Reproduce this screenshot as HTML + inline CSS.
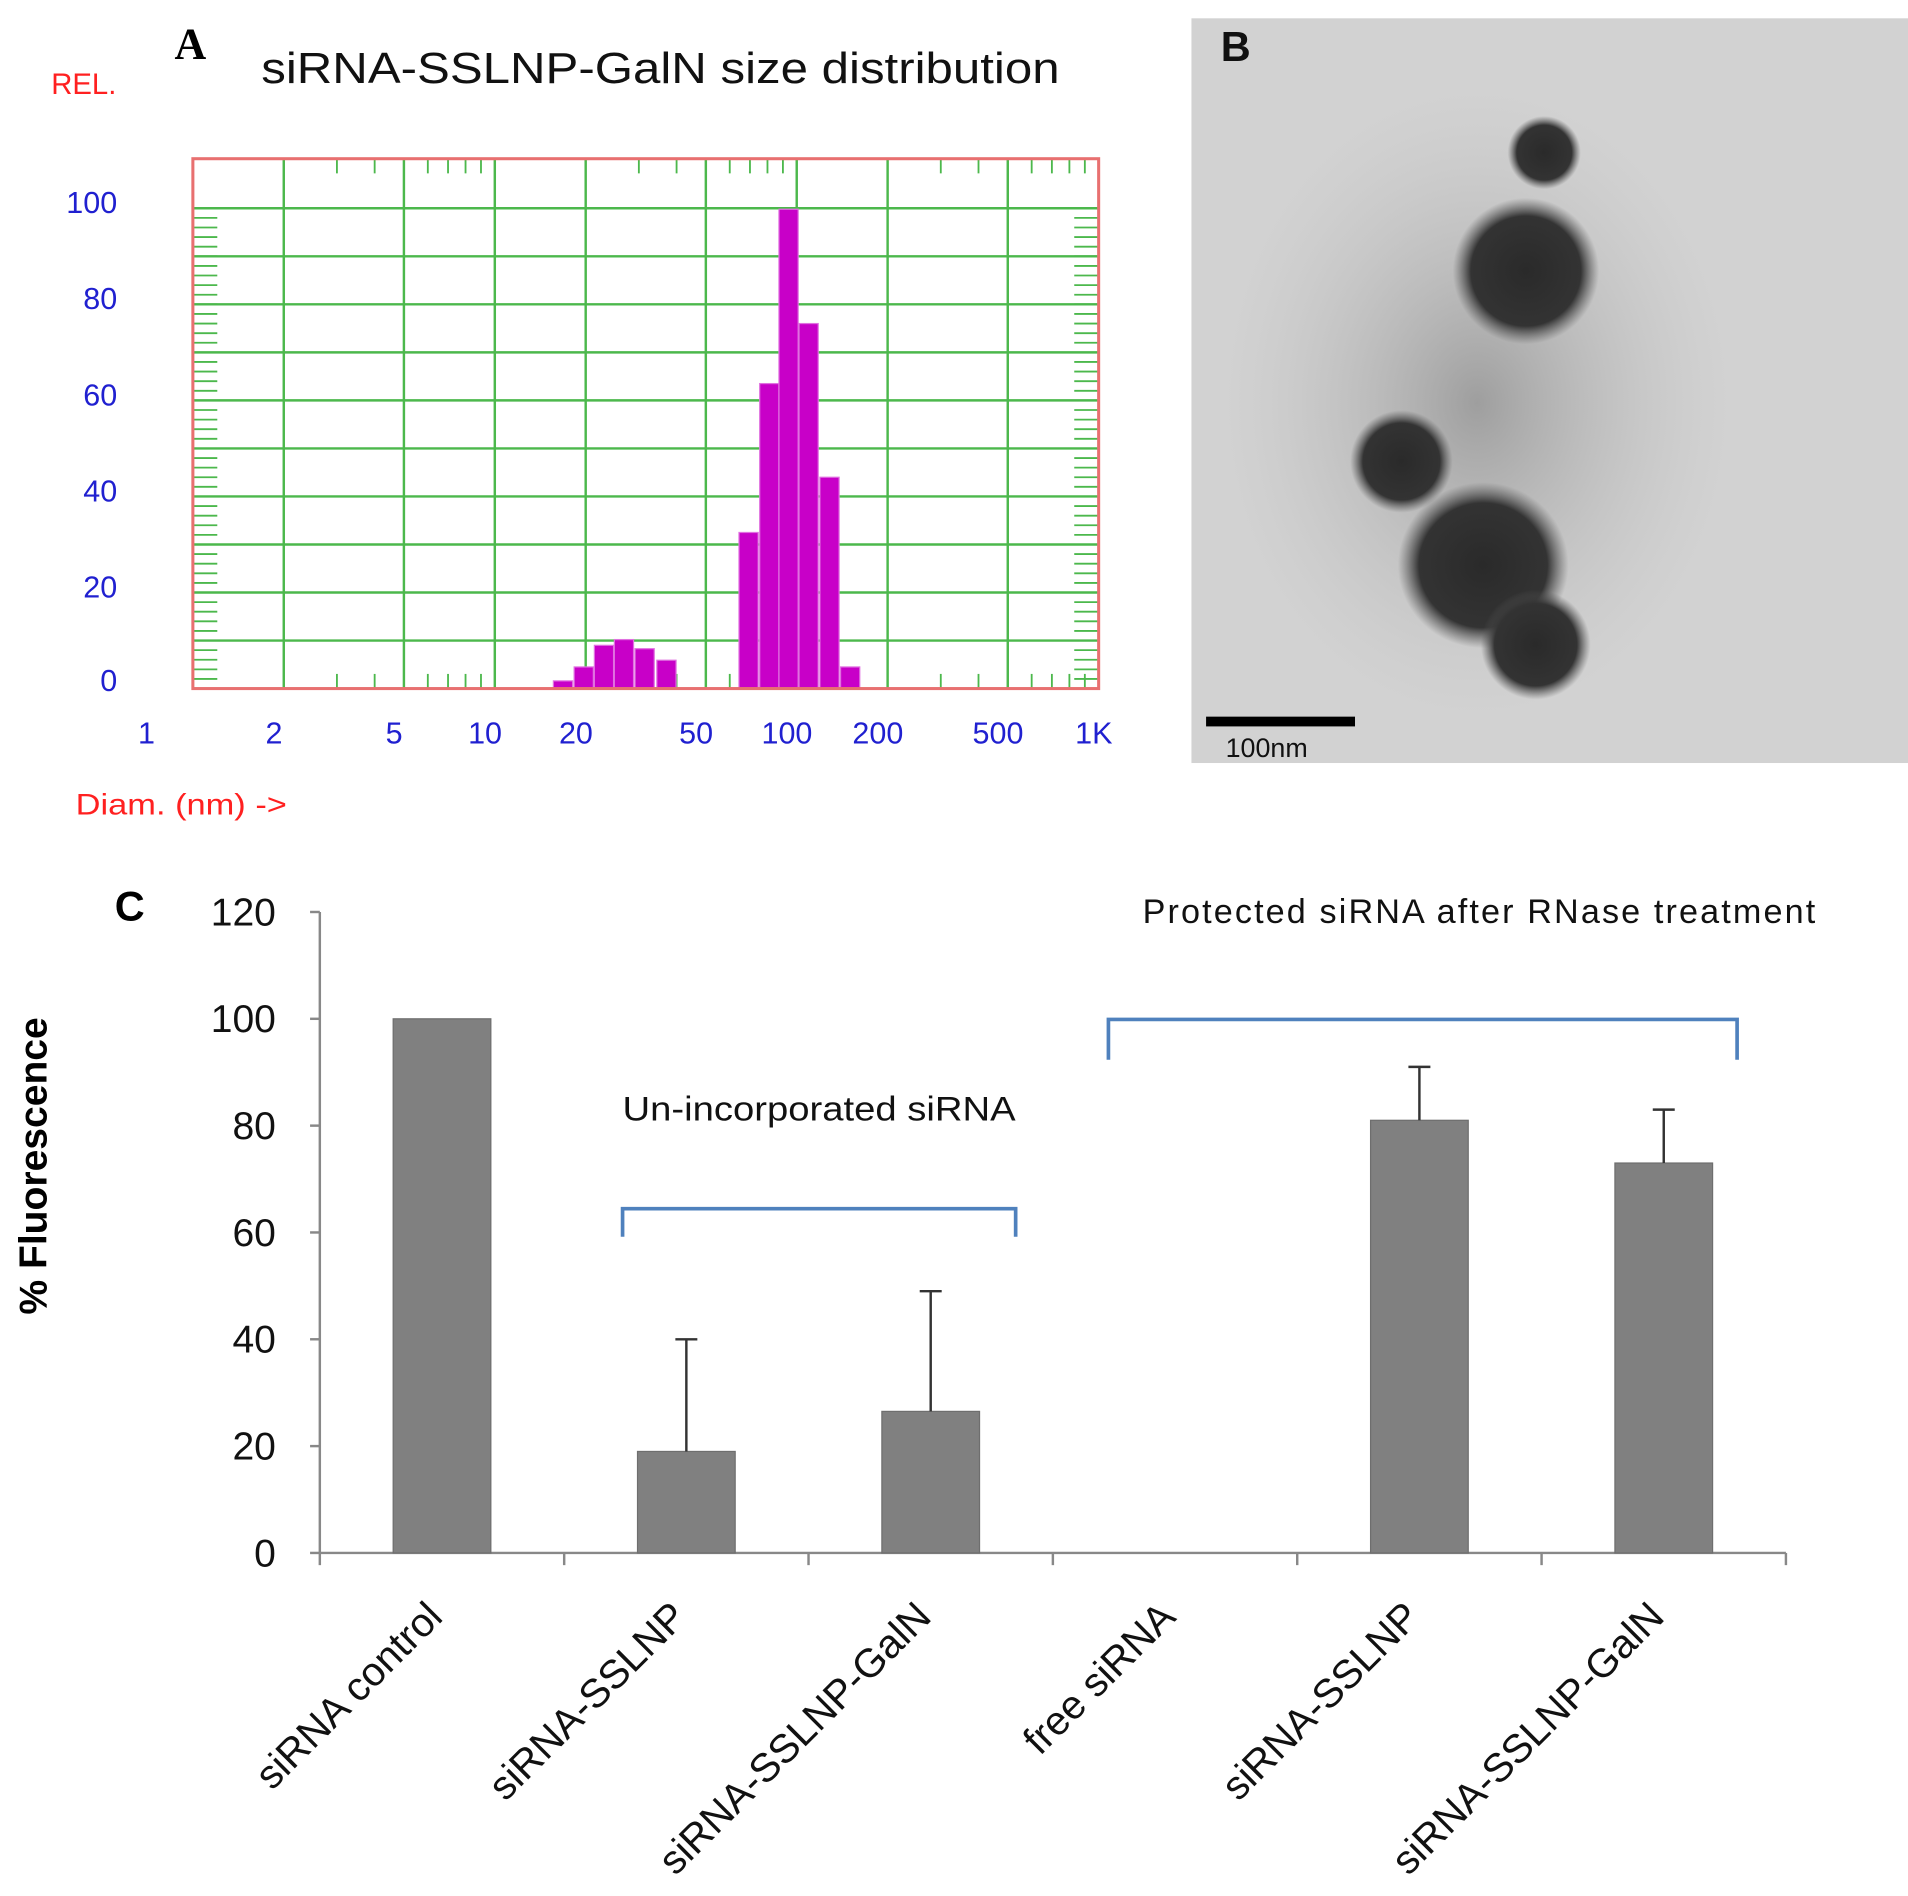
<!DOCTYPE html>
<html><head><meta charset="utf-8"><style>html,body{margin:0;padding:0;background:#fff}svg{display:block}</style></head>
<body>
<svg id="fig" width="1908" height="1896" viewBox="0 0 1563 1553" preserveAspectRatio="none" xmlns="http://www.w3.org/2000/svg" font-family="Liberation Sans, sans-serif">
<defs>
<radialGradient id="blob" cx="50%" cy="50%" r="50%"><stop offset="0" stop-color="#2a2a2a"/><stop offset="0.75" stop-color="#333"/><stop offset="1" stop-color="#555" stop-opacity="0"/></radialGradient>
<radialGradient id="halo" cx="50%" cy="50%" r="50%"><stop offset="0" stop-color="#888" stop-opacity="0.7"/><stop offset="1" stop-color="#bbb" stop-opacity="0"/></radialGradient>
</defs>
<g id="panelA"></g>
<g id="panelB">
  <rect x="976" y="15" width="587" height="610" fill="#d2d2d2"/>
  <ellipse cx="1210" cy="330" rx="210" ry="260" fill="url(#halo)"/>
  <circle cx="1265" cy="125" r="30" fill="url(#blob)"/>
  <circle cx="1250" cy="222" r="60" fill="url(#blob)"/>
  <circle cx="1148" cy="378" r="42" fill="url(#blob)"/>
  <ellipse cx="1215" cy="463" rx="70" ry="68" fill="url(#blob)"/>
  <circle cx="1258" cy="528" r="45" fill="url(#blob)"/>
  <rect x="988" y="587" width="122" height="8" fill="#000"/>
  <text x="1004" y="620" font-size="22" fill="#111">100nm</text>
  <text x="1000" y="50" font-size="34" font-weight="bold" fill="#111">B</text>
</g>
<g id="panelC"></g>
</svg>
<script>
const NS='http://www.w3.org/2000/svg';
function mk(parent,tag,attrs,text){const e=document.createElementNS(NS,tag);for(const k in attrs)e.setAttribute(k,attrs[k]);if(text!==undefined)e.textContent=text;parent.appendChild(e);return e;}

// ---------- Panel A data ----------
const diameters=[16.9,19.8,23.1,26.9,31.5,37.2,69.6,81.5,94.4,110,129,151];
const relValues=[1.6,4.5,9,10.2,8.3,5.9,32.5,63.5,99.8,76,44,4.5];
const xTickVals=[1,2,5,10,20,50,100,200,500,1000];
const xTickLabels=['1','2','5','10','20','50','100','200','500','1K'];
const yTickVals=[0,20,40,60,80,100];

// ---------- Panel C data ----------
const categories=['siRNA control','siRNA-SSLNP','siRNA-SSLNP-GalN','free siRNA','siRNA-SSLNP','siRNA-SSLNP-GalN'];
const fluorescence=[100,19,26.5,0,81,73];
const errUpper=[100,40,49,0,91,83];
const cTicks=[0,20,40,60,80,100,120];

(function(){
  const g=document.getElementById('panelA');
  const L=158,R=900,T=130,B=564;
  const xA=d=>L+Math.log10(d)*(R-L)/3;
  const yA=v=>B-(B-170.6)*v/100;
  mk(g,'rect',{x:L,y:T,width:R-L,height:B-T,fill:'#fff'});
  for(let v=10;v<=100;v+=10){mk(g,'line',{x1:L,x2:R,y1:yA(v),y2:yA(v),stroke:'#4cb84c','stroke-width':2});}
  for(let v=2;v<=100;v+=2){mk(g,'line',{x1:L,x2:L+20,y1:yA(v),y2:yA(v),stroke:'#4cb84c','stroke-width':1.5});mk(g,'line',{x1:R-20,x2:R,y1:yA(v),y2:yA(v),stroke:'#4cb84c','stroke-width':1.5});}
  xTickVals.slice(1,-1).forEach(d=>mk(g,'line',{x1:xA(d),x2:xA(d),y1:T,y2:B,stroke:'#4cb84c','stroke-width':2}));
  [3,4,6,7,8,9].forEach(m=>[1,10,100].forEach(s=>{const x=xA(m*s);mk(g,'line',{x1:x,x2:x,y1:T,y2:T+12,stroke:'#4cb84c','stroke-width':1.5});mk(g,'line',{x1:x,x2:x,y1:B-12,y2:B,stroke:'#4cb84c','stroke-width':1.5});}));
  const bw=(R-L)/3*0.0676;
  diameters.forEach((d,i)=>{
    const r=mk(g,'rect',{x:xA(d)-bw/2,y:yA(relValues[i]),width:bw-1,height:B-yA(relValues[i]),fill:'#c800c8',stroke:'#e070e0','stroke-width':1});
    
    
  });
  mk(g,'rect',{x:L,y:T,width:R-L,height:B-T,fill:'none',stroke:'#e87070','stroke-width':2.5});
  xTickVals.forEach((d,i)=>{const t=mk(g,'text',{x:xA(d)-(i==0?38:(i==9?4:8)),y:609,'font-size':25,fill:'#2020d0','text-anchor':'middle'},xTickLabels[i]);
    });
  yTickVals.forEach(v=>{const t=mk(g,'text',{x:96,y:yA(v)+(v==0?2:4),'font-size':25,fill:'#2020d0','text-anchor':'end'},String(v));
    });
  const a=mk(g,'text',{x:143,y:48,'font-size':36,'font-weight':'bold','font-family':'Liberation Serif, serif',fill:'#000'},'A');
  
  const ti=mk(g,'text',{x:214,y:68,'font-size':36,fill:'#111',textLength:654,lengthAdjust:'spacingAndGlyphs'},'siRNA-SSLNP-GalN size distribution');
  
  const rl=mk(g,'text',{x:42,y:77,'font-size':24,fill:'#ff2020'},'REL.');
  
  const dl=mk(g,'text',{x:62,y:667,'font-size':24,fill:'#ff2020',textLength:173,lengthAdjust:'spacingAndGlyphs'},'Diam. (nm) ->');
  
})();

(function(){
  const g=document.getElementById('panelC');
  const X0=262,X1=1463,Y0=1272,Y120=747;
  const yC=v=>Y0-(Y0-Y120)*v/120;
  const step=(X1-X0)/categories.length;
  const xC=i=>X0+step*(i+0.5);
  mk(g,'line',{x1:X0,x2:X0,y1:Y120,y2:Y0,stroke:'#888','stroke-width':2});
  mk(g,'line',{x1:X0,x2:X1,y1:Y0,y2:Y0,stroke:'#888','stroke-width':2});
  cTicks.forEach(v=>{mk(g,'line',{x1:X0-8,x2:X0,y1:yC(v),y2:yC(v),stroke:'#888','stroke-width':2});
    const t=mk(g,'text',{x:X0-36,y:yC(v)+11,'font-size':32,fill:'#111','text-anchor':'end'},String(v));
    });
  for(let i=0;i<=categories.length;i++){const x=X0+step*i;mk(g,'line',{x1:x,x2:x,y1:Y0,y2:Y0+10,stroke:'#888','stroke-width':2});}
  fluorescence.forEach((v,i)=>{
    if(v>0){const r=mk(g,'rect',{x:xC(i)-40,y:yC(v),width:80,height:Y0-yC(v),fill:'#808080',stroke:'#6e6e6e','stroke-width':1});
      }
    if(errUpper[i]>v){const e=mk(g,'path',{d:`M${xC(i)},${yC(v)}V${yC(errUpper[i])}M${xC(i)-9},${yC(errUpper[i])}H${xC(i)+9}`,stroke:'#333','stroke-width':2,fill:'none'});
      }
    const lx=xC(i)+2,ly=Y0+54;
    const t=mk(g,'text',{x:lx,y:ly,'font-size':33,fill:'#111','text-anchor':'end',transform:`rotate(-45 ${lx} ${ly})`},categories[i]);
    
  });
  const c=mk(g,'text',{x:94,y:754,'font-size':34,'font-weight':'bold',fill:'#000'},'C');
  
  const yt=mk(g,'text',{x:38,y:955,'font-size':32,'font-weight':'bold',fill:'#000','text-anchor':'middle',transform:'rotate(-90 38 955)'},'% Fluorescence');
  
  const b1=mk(g,'path',{d:'M510,1013V990H832V1013',stroke:'#4f81bd','stroke-width':3,fill:'none'});
  
  const b2=mk(g,'path',{d:'M908,868V835H1423V868',stroke:'#4f81bd','stroke-width':3,fill:'none'});
  
  const t1=mk(g,'text',{x:510,y:918,'font-size':28,fill:'#111',textLength:322,lengthAdjust:'spacingAndGlyphs'},'Un-incorporated siRNA');
  
  const t2=mk(g,'text',{x:936,y:756,'font-size':28,fill:'#111',textLength:551,lengthAdjust:'spacing'},'Protected siRNA after RNase treatment');
  
})();
</script>
</body></html>
